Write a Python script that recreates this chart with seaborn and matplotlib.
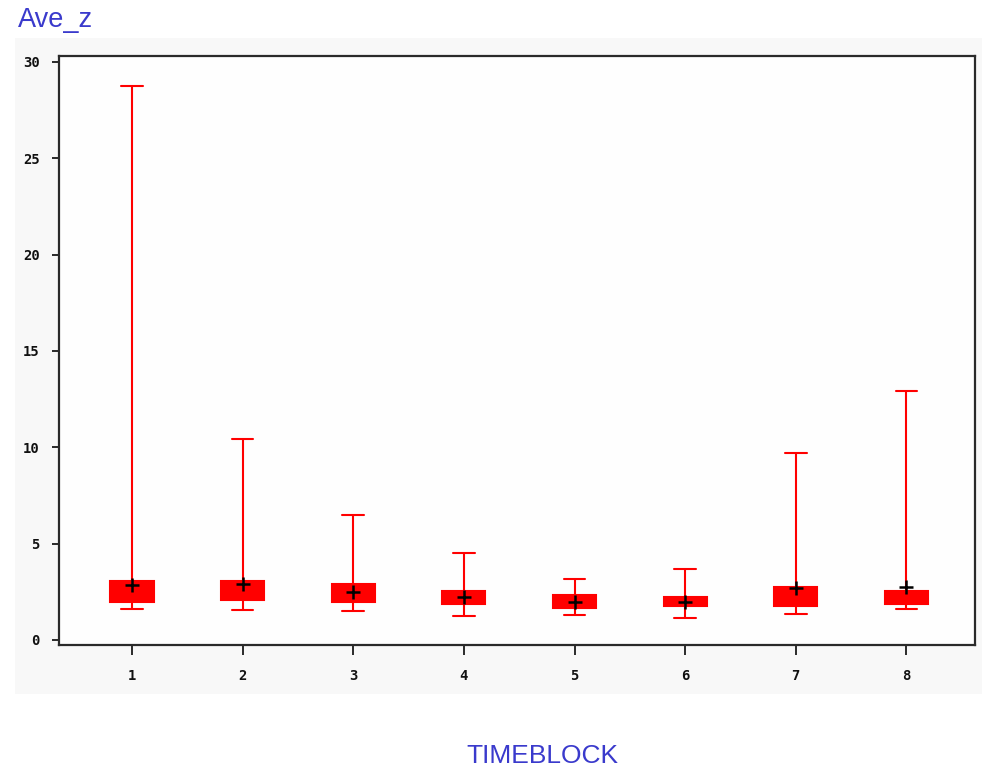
import numpy as np
import pandas as pd
import matplotlib
matplotlib.use("Agg")
import matplotlib.pyplot as plt
import seaborn as sns
from matplotlib.patches import Rectangle

# ---- data ----
timeblocks = ["1", "2", "3", "4", "5", "6", "7", "8"]
whisker_low = [1.59, 1.57, 1.49, 1.26, 1.28, 1.16, 1.37, 1.59]
q1 = [1.96, 2.06, 1.96, 1.85, 1.64, 1.75, 1.75, 1.85]
medians = [2.45, 2.50, 2.35, 2.15, 1.95, 1.95, 2.20, 2.15]
q3 = [3.08, 3.08, 2.89, 2.56, 2.35, 2.23, 2.77, 2.56]
whisker_high = [28.75, 10.43, 6.49, 4.50, 3.15, 3.67, 9.70, 12.92]
means = [2.85, 2.92, 2.51, 2.21, 1.99, 1.99, 2.70, 2.73]
ytick_values = [0, 5, 10, 15, 20, 25, 30]

rows = []
for tb, lo, a, m, b, hi in zip(timeblocks, whisker_low, q1, medians, q3, whisker_high):
    for v in (lo, a, m, b, hi):
        rows.append({"TIMEBLOCK": tb, "Ave_z": v})
df = pd.DataFrame(rows)

sns.set_style("white")
W, H = 982, 768
fig = plt.figure(figsize=(W / 100, H / 100), dpi=100)
fig.patch.set_facecolor("white")
fig.patches.append(Rectangle((15 / W, 1 - 694 / H), (W - 15) / W, (694 - 38) / H,
                             transform=fig.transFigure, facecolor="#f8f8f8",
                             edgecolor="none", zorder=-10))

ax = fig.add_axes([59 / W, 1 - 645 / H, (975 - 59) / W, (645 - 56) / H])
ax.set_zorder(1)
ax.set_facecolor("#fefefe")

red = "#ff0000"
sns.boxplot(data=df, x="TIMEBLOCK", y="Ave_z", order=timeblocks, whis=(0, 100),
            width=0.39, color=red, linecolor=red, linewidth=1.5, fill=True,
            saturation=1, ax=ax,
            boxprops=dict(facecolor=red, edgecolor=red),
            medianprops=dict(color=red),
            whiskerprops=dict(color=red),
            capprops=dict(color=red))

ax.plot(np.arange(len(timeblocks)), means, linestyle="none", marker="+",
        markersize=10, markeredgewidth=1.8, color="black", zorder=5)

ax.set_xlim(-0.66, 7.62)
ax.set_ylim(-0.26, 30.3)
ax.set_yticks(ytick_values)
ax.set_yticklabels([str(v) for v in ytick_values])
ax.set_xticks(np.arange(len(timeblocks)))
ax.set_xticklabels(timeblocks)
ax.set_xlabel("")
ax.set_ylabel("")

for s in ax.spines.values():
    s.set_visible(True)
    s.set_color("#2a2a2a")
    s.set_linewidth(1.6)

ax.tick_params(axis="y", which="both", left=True, direction="out", length=5,
               width=1.4, color="#2a2a2a", pad=9, labelsize=10)
ax.tick_params(axis="x", which="both", bottom=True, direction="out", length=7.5,
               width=1.4, color="#2a2a2a", pad=10, labelsize=10)
for lab in ax.get_xticklabels() + ax.get_yticklabels():
    lab.set_fontfamily("DejaVu Sans Mono")
    lab.set_fontweight("bold")
    lab.set_color("#111111")

blue = "#3a3acc"
fig.text(18 / W, 1 - 27 / H, "Ave_z", color=blue, fontsize=19.5,
         fontfamily="Liberation Sans", ha="left", va="baseline")
fig.text(542 / W, 1 - 763 / H, "TIMEBLOCK", color=blue, fontsize=19,
         fontfamily="Liberation Sans", ha="center", va="baseline")

fig.savefig("out.png", dpi=100)
